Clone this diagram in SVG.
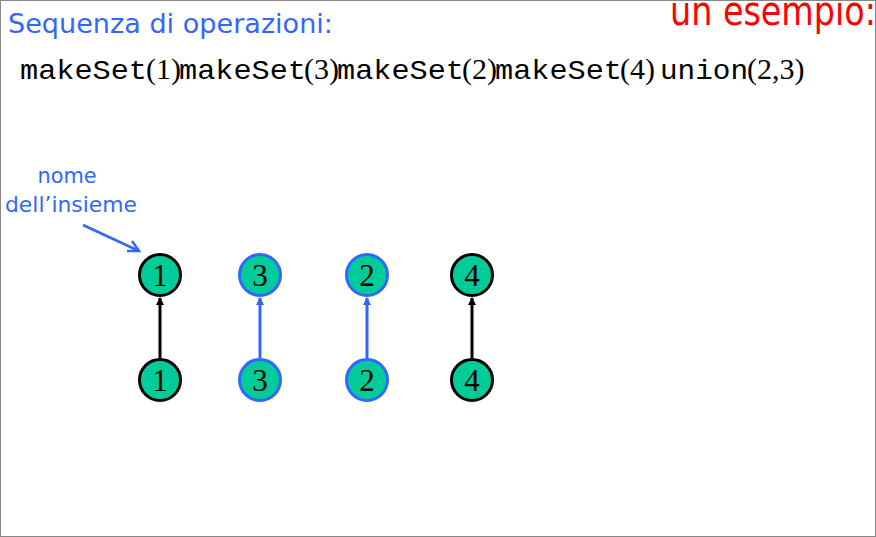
<svg xmlns="http://www.w3.org/2000/svg" width="876" height="537" viewBox="0 0 876 537">
<style>
.comic{font-family:"DejaVu Sans","Noto Sans",sans-serif;}
.mono{font-family:"Liberation Mono","Courier New",monospace;font-size:28px;fill:#000;}
.ser{font-family:"Liberation Serif","Times New Roman",serif;font-size:30px;fill:#000;}
.node circle{fill:#00CC99;stroke-width:3;}
.blk circle{stroke:#000;}
.blu circle{stroke:#3366FF;}
.node text{font-family:"Liberation Serif","Times New Roman",serif;font-size:31px;text-anchor:middle;fill:#000;}
</style>
<defs>
<marker id="ahb" markerWidth="8" markerHeight="8" refX="7" refY="4" orient="auto" markerUnits="userSpaceOnUse" viewBox="0 0 8 8"><path d="M0,0 L8,4 L0,8 Z" fill="#000"/></marker>
<marker id="ahu" markerWidth="8" markerHeight="8" refX="7" refY="4" orient="auto" markerUnits="userSpaceOnUse" viewBox="0 0 8 8"><path d="M0,0 L8,4 L0,8 Z" fill="#3366FF"/></marker>
</defs>
<rect x="0.5" y="0.5" width="875" height="536" fill="#fff" stroke="#888" stroke-width="1"/>
<text class="comic" x="670" y="25" font-size="40" fill="#FF0000" textLength="206" lengthAdjust="spacingAndGlyphs">un esempio:</text>
<text class="comic" x="8" y="33" font-size="26" fill="#3366FF" textLength="325" lengthAdjust="spacingAndGlyphs">Sequenza di operazioni:</text>
<g id="code">
<text class="mono" x="20" y="79" textLength="127" lengthAdjust="spacingAndGlyphs">makeSet</text><text class="ser" x="146" y="79">(1)</text>
<text class="mono" x="179" y="79" textLength="127" lengthAdjust="spacingAndGlyphs">makeSet</text><text class="ser" x="304" y="79">(3)</text>
<text class="mono" x="337" y="79" textLength="127" lengthAdjust="spacingAndGlyphs">makeSet</text><text class="ser" x="462" y="79">(2)</text>
<text class="mono" x="495" y="79" textLength="127" lengthAdjust="spacingAndGlyphs">makeSet</text><text class="ser" x="620" y="79">(4)</text>
<text class="mono" x="660" y="79" textLength="88" lengthAdjust="spacingAndGlyphs">union</text><text class="ser" x="747" y="79">(2,3)</text>
</g>
<g id="label">
<text class="comic" x="67" y="183" font-size="22" fill="#3366FF" text-anchor="middle" textLength="59" lengthAdjust="spacingAndGlyphs">nome</text>
<text class="comic" x="71" y="212" font-size="22" fill="#3366FF" text-anchor="middle" textLength="132" lengthAdjust="spacingAndGlyphs">dell’insieme</text>
</g>
<g id="connectors" fill="none" stroke-width="3">
<path d="M83,225 L139,251" stroke="#3366FF" stroke-width="2.5"/>
<path d="M127,251 L139,251 L132,241" stroke="#3366FF" stroke-width="2.5"/>
<line x1="160" y1="358" x2="160" y2="298" stroke="#000" marker-end="url(#ahb)"/>
<line x1="260" y1="358" x2="260" y2="298" stroke="#3366FF" marker-end="url(#ahu)"/>
<line x1="367" y1="358" x2="367" y2="298" stroke="#3366FF" marker-end="url(#ahu)"/>
<line x1="472" y1="358" x2="472" y2="298" stroke="#000" marker-end="url(#ahb)"/>
</g>
<g id="n1top" class="node blk"><circle cx="160" cy="275" r="20.5"/><text x="160" y="286">1</text></g>
<g id="n1" class="node blk"><circle cx="160" cy="380" r="20.5"/><text x="160" y="391">1</text></g>
<g id="n3top" class="node blu"><circle cx="260" cy="275" r="20.5"/><text x="260" y="286">3</text></g>
<g id="n3" class="node blu"><circle cx="260" cy="380" r="20.5"/><text x="260" y="391">3</text></g>
<g id="n2top" class="node blu"><circle cx="367" cy="275" r="20.5"/><text x="367" y="286">2</text></g>
<g id="n2" class="node blu"><circle cx="367" cy="380" r="20.5"/><text x="367" y="391">2</text></g>
<g id="n4top" class="node blk"><circle cx="472" cy="275" r="20.5"/><text x="472" y="286">4</text></g>
<g id="n4" class="node blk"><circle cx="472" cy="380" r="20.5"/><text x="472" y="391">4</text></g>
</svg>
